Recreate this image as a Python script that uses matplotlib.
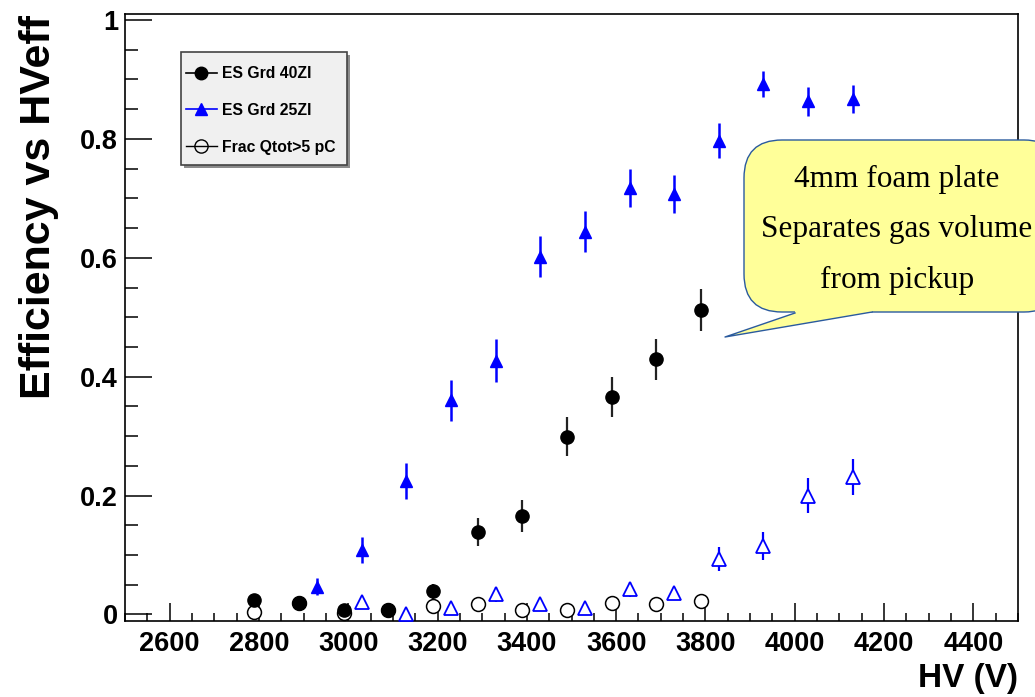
import numpy as np
import matplotlib
matplotlib.use("Agg")
import matplotlib.pyplot as plt
from matplotlib.lines import Line2D
from matplotlib.patches import FancyBboxPatch, Polygon, Rectangle
from matplotlib.transforms import IdentityTransform
from matplotlib.ticker import MultipleLocator, FixedLocator, FuncFormatter

# ---- data -------------------------------------------------------------
series_labels = ["ES Grd 40ZI", "ES Grd 25ZI", "Frac Qtot>5 pC"]

hv_40 = [2790, 2890, 2990, 3090, 3190, 3290, 3390, 3490, 3590, 3690, 3790]
eff_40 = [0.024, 0.019, 0.007, 0.008, 0.039, 0.139, 0.165, 0.299, 0.366, 0.429, 0.512]
err_40 = [0.006, 0.006, 0.005, 0.005, 0.013, 0.024, 0.027, 0.033, 0.034, 0.035, 0.035]

frac_40 = [0.004, 0.019, 0.003, 0.008, 0.0135, 0.018, 0.008, 0.008, 0.020, 0.018, 0.022]
frac_40_err = [0.010, 0.010, 0.010, 0.010, 0.010, 0.010, 0.011, 0.011, 0.011, 0.011, 0.011]

hv_25 = [2930, 3030, 3130, 3230, 3330, 3430, 3530, 3630, 3730, 3830, 3930, 4030, 4130]
eff_25 = [0.047, 0.108, 0.225, 0.360, 0.427, 0.602, 0.644, 0.718, 0.708, 0.797, 0.892, 0.863, 0.867]
err_25 = [0.015, 0.022, 0.030, 0.034, 0.036, 0.035, 0.034, 0.032, 0.032, 0.029, 0.022, 0.025, 0.024]

hv_25_frac = [3030, 3130, 3230, 3330, 3430, 3530, 3630, 3730, 3830, 3930, 4030, 4130]
frac_25 = [0.021, 0.001, 0.011, 0.034, 0.017, 0.011, 0.042, 0.036, 0.093, 0.115, 0.200, 0.231]
frac_25_err = [0.006, 0.004, 0.005, 0.013, 0.007, 0.006, 0.012, 0.010, 0.020, 0.023, 0.029, 0.030]

x_ticks = [2600, 2800, 3000, 3200, 3400, 3600, 3800, 4000, 4200, 4400]
y_ticks = [0, 0.2, 0.4, 0.6, 0.8, 1.0]

note_lines = ["4mm foam plate", "Separates gas volume", "from pickup"]

# ---- figure -----------------------------------------------------------
W, H = 1035, 697
fig = plt.figure(figsize=(W / 100, H / 100), dpi=100)
fig.patch.set_facecolor("white")

ax = fig.add_axes([125 / W, 1 - 621 / H, (1018 - 125) / W, (621 - 13.5) / H])
ax.set_xlim(2500, 4500)
ax.set_ylim(-0.011, 1.011)

sans = "Liberation Sans"
BLUE = (0, 0, 1)

# open markers get a white face so their error bars stop at the outline
ax.errorbar(hv_40, frac_40, yerr=frac_40_err, fmt="o", mfc="white", mec="black",
            mew=1.1, ms=10, ecolor="black", elinewidth=1.4, capsize=0, zorder=3)
ax.errorbar(hv_25_frac, frac_25, yerr=frac_25_err, fmt="^", mfc="white", mec=BLUE,
            mew=1.3, ms=10.5, ecolor=BLUE, elinewidth=1.6, capsize=0, zorder=3)
ax.errorbar(hv_40, eff_40, yerr=err_40, fmt="o", color="black", ms=9.5,
            ecolor="#222222", elinewidth=1.6, capsize=0, zorder=4)
ax.errorbar(hv_25, eff_25, yerr=err_25, fmt="^", color=BLUE, ms=9,
            ecolor=BLUE, elinewidth=1.8, capsize=0, zorder=4)

# ---- axes styling ------------------------------------------------------
ax.xaxis.set_major_locator(FixedLocator(x_ticks))
ax.xaxis.set_minor_locator(MultipleLocator(50))
ax.yaxis.set_major_locator(FixedLocator(y_ticks))
ax.yaxis.set_minor_locator(MultipleLocator(0.05))
ax.yaxis.set_major_formatter(FuncFormatter(lambda v, p: f"{v:g}"))

ax.tick_params(which="both", direction="in", top=False, right=False, width=1.1,
               color="black")
ax.tick_params(axis="x", which="major", length=13, pad=7)
ax.tick_params(axis="x", which="minor", length=5.8)
ax.tick_params(axis="y", which="major", length=19.4, pad=5)
ax.tick_params(axis="y", which="minor", length=9.4)
for lab in ax.get_xticklabels() + ax.get_yticklabels():
    lab.set_fontfamily(sans)
    lab.set_fontweight("bold")
    lab.set_fontsize(19.5)
for sp in ax.spines.values():
    sp.set_linewidth(1.2)
    sp.set_color("black")

fig.text(39 / W, 1 - 207 / H, "Efficiency vs HVeff", rotation=90, ha="center",
         va="center", fontsize=31, fontweight="bold", family=sans)
fig.text(1018 / W, 10 / H, "HV (V)", ha="right", va="baseline", fontsize=24,
         fontweight="bold", family=sans)

# ---- legend -------------------------------------------------------------
# box with a drop shadow, in pixel coordinates
box_l, box_t, box_r, box_b = 181, 52, 347, 165
shadow = Rectangle((box_l + 3, H - box_b - 3), box_r - box_l, box_b - box_t,
                   transform=IdentityTransform(), fc="#8c8c8c", ec="none",
                   clip_on=False, zorder=5)
frame = Rectangle((box_l, H - box_b), box_r - box_l, box_b - box_t,
                  transform=IdentityTransform(), fc="#f0f0f0", ec="#444444",
                  lw=1.2, clip_on=False, zorder=5.1)
ax.add_patch(shadow)
ax.add_patch(frame)

handles = [
    Line2D([0], [0], color="black", marker="o", ms=9, lw=1.2),
    Line2D([0], [0], color=BLUE, marker="^", ms=9, lw=1.2),
    Line2D([0], [0], color="black", marker="o", ms=9.5, mfc="none", mew=1.0, lw=1.0),
]
leg = ax.legend(handles, series_labels, loc="upper left",
                bbox_to_anchor=(186 / W, 1 - 66 / H), bbox_transform=fig.transFigure,
                prop={"family": sans, "weight": "bold", "size": 11.3},
                frameon=False, borderpad=0,
                labelspacing=1.4, handlelength=1.95, handletextpad=0.35,
                borderaxespad=0)
leg.set_zorder(6)

# ---- speech-bubble note --------------------------------------------------
FILL = "#ffff99"
EDGE = "#2a5a9e"
bubble = FancyBboxPatch((744, H - 312), 1062 - 744, 312 - 140,
                        boxstyle="round,pad=0,rounding_size=38",
                        transform=IdentityTransform(), fc=FILL, ec=EDGE, lw=1.0,
                        zorder=7)
fig.add_artist(bubble)
tail_fill = Polygon([(795, H - 313), (725, H - 337), (872, H - 312),
                     (872, H - 308), (795, H - 308)], closed=True,
                    transform=IdentityTransform(), fc=FILL, ec="none", zorder=8)
fig.add_artist(tail_fill)
tail_edge = Line2D([795, 725, 872], [H - 313, H - 337, H - 312], color=EDGE,
                   lw=1.0, transform=IdentityTransform(), zorder=9)
fig.add_artist(tail_edge)

for txt, base in zip(note_lines, [187, 237, 288]):
    fig.text(897 / W, 1 - base / H, txt, ha="center", va="baseline",
             fontsize=22.5, family="Liberation Serif", zorder=10)

fig.savefig("out.png", dpi=100)
